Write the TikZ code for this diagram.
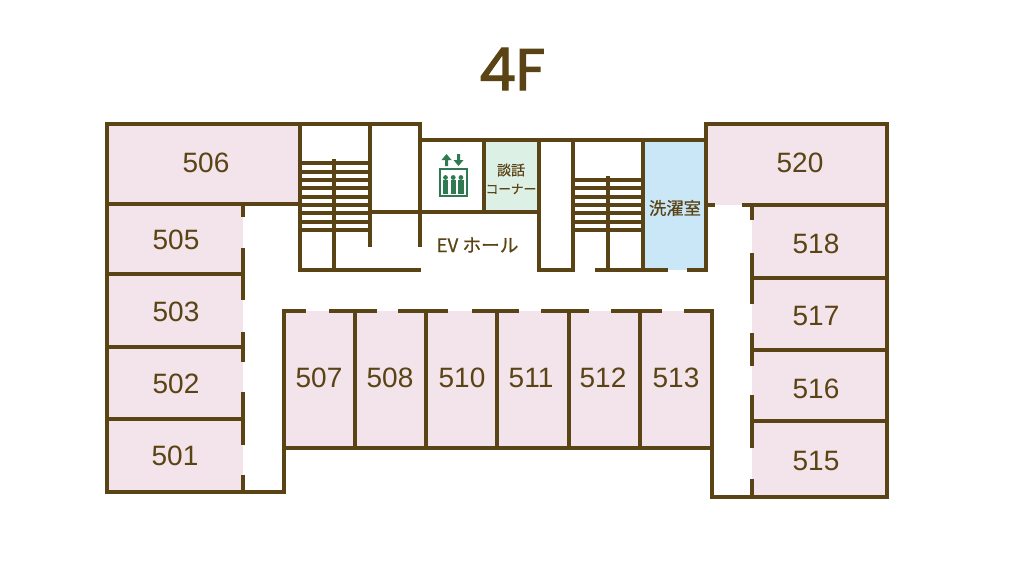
\documentclass[tikz,border=0pt]{standalone}
\usepackage{fontspec}
\setmainfont{Liberation Sans}
\newfontfamily\jpfont[FakeBold=0.6]{Noto Sans CJK JP}
\newfontfamily\titlefont[FakeBold=2]{Poppins}

\definecolor{wallbrown}{RGB}{90,67,20}
\definecolor{roompink}{RGB}{242,228,234}
\definecolor{talkgreen}{RGB}{221,240,229}
\definecolor{washblue}{RGB}{201,231,247}
\definecolor{evgreen}{RGB}{47,122,80}

\tikzset{
  wall/.style={draw=wallbrown,line width=3pt,line cap=rect},
  tread/.style={draw=wallbrown,line width=2.4pt},
  roomnum/.style={text=wallbrown,inner sep=0pt,font=\fontsize{21}{24}\selectfont},
  jplabel/.style={text=wallbrown,inner sep=0pt,font=\jpfont}
}

\begin{document}
\begin{tikzpicture}[x=0.75pt,y=0.75pt,yscale=-1,xscale=1]
\useasboundingbox (0,0) rectangle (1024,567);

%Room fills
\fill [roompink] (107,124) rectangle (300,204);
\fill [roompink] (107,204) rectangle (243,492);
\fill [roompink] (284,311) rectangle (712,448);
\fill [roompink] (706,124) rectangle (887,205);
\fill [roompink] (752,205) rectangle (887,497);
\fill [talkgreen] (484,140) rectangle (539,212);
\fill [washblue] (643,140) rectangle (706,270);

%Left wing
\draw [wall] (300,124) -- (107,124) -- (107,492) -- (284,492) -- (284,311);
\draw [wall] (107,204) -- (300,204);
\draw [wall] (107,274) -- (243,274);
\draw [wall] (107,347) -- (243,347);
\draw [wall] (107,419) -- (243,419);
\draw [wall,line cap=butt] (243,204) -- (243,217) (243,248) -- (243,300) (243,332) -- (243,362) (243,392) -- (243,445) (243,475) -- (243,492);

%Centre rooms
\draw [wall] (284,448) -- (712,448) -- (712,311);
\draw [wall] (355,311) -- (355,448);
\draw [wall] (426,311) -- (426,448);
\draw [wall] (497,311) -- (497,448);
\draw [wall] (569,311) -- (569,448);
\draw [wall] (640,311) -- (640,448);
\draw [wall,line cap=butt] (282,311) -- (306,311) (329,311) -- (377,311) (398,311) -- (448,311) (472,311) -- (519,311) (541,311) -- (589,311) (611,311) -- (662,311) (684,311) -- (714,311);

%Right wing
\draw [wall] (706,270) -- (706,124) -- (887,124) -- (887,497) -- (712,497) -- (712,448);
\draw [wall,line cap=butt] (706,205) -- (715,205);
\draw [wall,line cap=butt] (742,205) -- (887,205);
\draw [wall] (752,278) -- (887,278);
\draw [wall] (752,350) -- (887,350);
\draw [wall] (752,421) -- (887,421);
\draw [wall,line cap=butt] (752,205) -- (752,220) (752,253) -- (752,304) (752,333) -- (752,366) (752,395) -- (752,448) (752,479) -- (752,497);

%Left stairs
\draw [tread] (300,163) -- (370,163) (300,172) -- (370,172) (300,180) -- (370,180) (300,188) -- (370,188) (300,197) -- (370,197) (300,205) -- (370,205) (300,213) -- (370,213) (300,222) -- (370,222) (300,230) -- (370,230);
\draw [wall] (300,124) -- (300,270) -- (419,270);
\draw [wall] (334,161) -- (334,270);
\draw [wall] (370,124) -- (370,245);
\draw [wall] (420,124) -- (420,245);
\draw [wall] (300,124) -- (420,124);

%Lift and talk corner
\draw [wall] (420,140) -- (706,140);
\draw [wall] (370,212) -- (539,212);
\draw [wall] (484,140) -- (484,212);
\draw [wall] (539,140) -- (539,270) -- (573,270) -- (573,140);

%Right stairs
\draw [tread] (573,180) -- (643,180) (573,188) -- (643,188) (573,197) -- (643,197) (573,205) -- (643,205) (573,213) -- (643,213) (573,222) -- (643,222) (573,230) -- (643,230);
\draw [wall] (608,178) -- (608,270);
\draw [wall] (643,140) -- (643,270);
\draw [wall,line cap=butt] (595,270) -- (668,270) (687,270) -- (707,270);

%Lift icon
\draw [evgreen,line width=1.5pt] (439.5,169) rectangle (467,196);
\fill [evgreen] (446.5,154) -- (451.5,160) -- (448,160) -- (448,166) -- (445,166) -- (445,160) -- (441.5,160) -- cycle;
\fill [evgreen] (458.5,166) -- (463.5,160) -- (460,160) -- (460,154) -- (457,154) -- (457,160) -- (453.5,160) -- cycle;
\fill [evgreen] (445.5,177.5) circle (2.4);
\fill [evgreen] (453.2,177.5) circle (2.4);
\fill [evgreen] (460.9,177.5) circle (2.4);
\fill [evgreen] (442.8,180) rectangle (448.2,194);
\fill [evgreen] (450.5,180) rectangle (455.9,194);
\fill [evgreen] (458.2,180) rectangle (463.6,194);

% Text Node
\node [text=wallbrown,inner sep=0pt,font=\titlefont\fontsize{44}{50}\selectfont] (title) at (512,69) {4F};
\node [roomnum] (r506) at (206,163) {506};
\node [roomnum] (r505) at (176,240) {505};
\node [roomnum] (r503) at (176,312) {503};
\node [roomnum] (r502) at (176,384) {502};
\node [roomnum] (r501) at (175,456) {501};
\node [roomnum] (r507) at (319,378) {507};
\node [roomnum] (r508) at (390,378) {508};
\node [roomnum] (r510) at (462,378) {510};
\node [roomnum] (r511) at (531,378) {511};
\node [roomnum] (r512) at (603,378) {512};
\node [roomnum] (r513) at (676,378) {513};
\node [roomnum] (r520) at (800,163) {520};
\node [roomnum] (r518) at (816,244) {518};
\node [roomnum] (r517) at (816,316) {517};
\node [roomnum] (r516) at (816,389) {516};
\node [roomnum] (r515) at (816,461) {515};
\node [jplabel,font=\jpfont\fontsize{10.5}{12}\selectfont] (talk) at (511,170) {談話};
\node [jplabel,font=\jpfont\fontsize{9.5}{12}\selectfont] (corner) at (511,189) {コーナー};
\node [jplabel,font=\jpfont\fontsize{13}{15}\selectfont] (wash) at (675,208) {洗濯室};
\node [jplabel,font=\jpfont\fontsize{14}{16}\selectfont] (hall) at (477.5,245) {EV ホール};
\end{tikzpicture}
\end{document}
